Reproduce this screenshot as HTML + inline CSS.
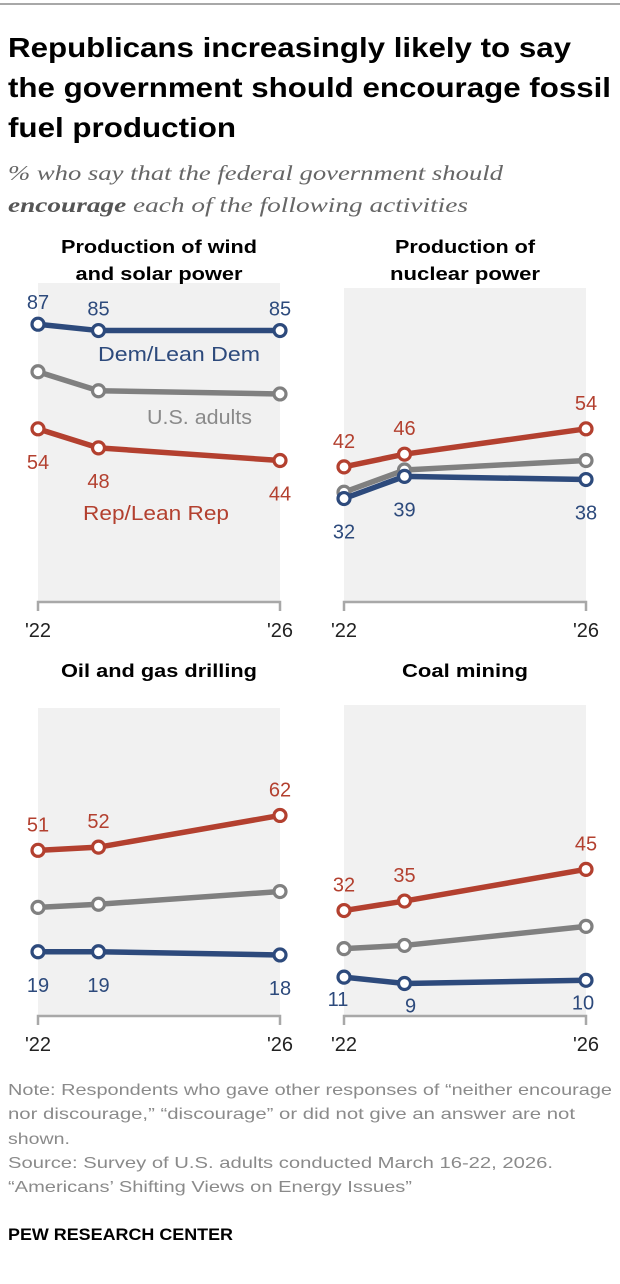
<!DOCTYPE html>
<html><head><meta charset="utf-8"><style>
html,body{margin:0;padding:0;background:#fff;width:620px;height:1284px;overflow:hidden}
svg{display:block}
text{font-family:"Liberation Sans",sans-serif}
</style></head><body>
<svg id="chart" width="620" height="1284" viewBox="0 0 620 1284" xmlns="http://www.w3.org/2000/svg">
<line x1="0" y1="4" x2="620" y2="4" stroke="#8c8c8c" stroke-width="1.5"/>
<g font-weight="bold" font-size="28" fill="#000">
<text x="8" y="57" textLength="563" lengthAdjust="spacingAndGlyphs">Republicans increasingly likely to say</text>
<text x="8" y="97" textLength="603" lengthAdjust="spacingAndGlyphs">the government should encourage fossil</text>
<text x="8" y="137" textLength="228" lengthAdjust="spacingAndGlyphs">fuel production</text>
</g>
<g font-style="italic" font-size="21" fill="#666">
<text x="8" y="180" textLength="495" lengthAdjust="spacingAndGlyphs" style="font-family:'Liberation Serif',serif">% who say that the federal government should</text>
<text x="8" y="212" textLength="460" lengthAdjust="spacingAndGlyphs" style="font-family:'Liberation Serif',serif"><tspan font-weight="bold" fill="#555">encourage</tspan> each of the following activities</text>
</g>
<g id="panels"></g>
<g font-size="16" fill="#8a8a8a">
<text x="8" y="1095" textLength="604" lengthAdjust="spacingAndGlyphs">Note: Respondents who gave other responses of “neither encourage</text>
<text x="8" y="1119" textLength="567" lengthAdjust="spacingAndGlyphs">nor discourage,” “discourage” or did not give an answer are not</text>
<text x="8" y="1144" textLength="62" lengthAdjust="spacingAndGlyphs">shown.</text>
<text x="8" y="1168" textLength="545" lengthAdjust="spacingAndGlyphs">Source: Survey of U.S. adults conducted March 16-22, 2026.</text>
<text x="8" y="1192" textLength="404" lengthAdjust="spacingAndGlyphs">“Americans’ Shifting Views on Energy Issues”</text>
</g>
<text x="8" y="1240" font-size="17" font-weight="bold" fill="#000" textLength="225" lengthAdjust="spacingAndGlyphs">PEW RESEARCH CENTER</text>
</svg>
<script>
// data
const years = [2022, 2023, 2026];
const panelNames = ["wind-solar","nuclear","oil-gas","coal"];
const demValues = [[87,85,85],[32,39,38],[19,19,18],[11,9,10]];
const repValues = [[54,48,44],[42,46,54],[51,52,62],[32,35,45]];
const adultValues = [[72,66,65],[34,41,44],[33,34,38],[20,21,27]];
const tickLabels = ["'22","'26"];
const titles = [["Production of wind","and solar power"],["Production of","nuclear power"],["Oil and gas drilling"],["Coal mining"]];

const NS="http://www.w3.org/2000/svg";
const root=document.getElementById('panels');
function mk(tag,attrs,parent){const e=document.createElementNS(NS,tag);for(const k in attrs)e.setAttribute(k,attrs[k]);parent.appendChild(e);return e;}
const layouts=[
 {x0:38,x1:280,bgTop:283,zero:600,axis:602,titleY:[253,280],cx:159,tw:[196,167]},
 {x0:344,x1:586,bgTop:288,zero:600,axis:602,titleY:[253,280],cx:465,tw:[140,150]},
 {x0:38,x1:280,bgTop:708,zero:1012,axis:1016,titleY:[677],cx:159,tw:[196]},
 {x0:344,x1:586,bgTop:705,zero:1012,axis:1016,titleY:[677],cx:465,tw:[126]}
];
const COL={dem:"#2d4a7c",rep:"#b3402f",adult:"#808080"};
const K=3.17;
panelNames.forEach((pn,i)=>{
 const L=layouts[i];
 const g=mk('g',{},root);
 
 
 const xs=v=>L.x0+(v-years[0])/(years[2]-years[0])*(L.x1-L.x0);
 const ys=v=>L.zero-v*K;
 const bg=mk('rect',{x:L.x0,y:L.bgTop,width:L.x1-L.x0,height:L.axis-L.bgTop,fill:"#f1f1f1"},g);
 
 
 titles[i].forEach((t,j)=>{
  const tt=mk('text',{x:L.cx,y:L.titleY[j],'text-anchor':'middle','font-size':18,'font-weight':'bold',fill:'#000',textLength:L.tw[j],lengthAdjust:'spacingAndGlyphs'},g);
  tt.textContent=t;
  
  
 });
 const ax=mk('path',{d:`M${L.x0},${L.axis+9}V${L.axis}H${L.x1}V${L.axis+9}`,stroke:'#a8a8a8','stroke-width':2.5,fill:'none'},g);
 
 
 [years[0],years[2]].forEach((yv,j)=>{
  const tl=mk('text',{x:xs(yv),y:L.axis+35,'text-anchor':'middle','font-size':20,fill:'#222'},g);
  tl.textContent=tickLabels[j];
  
  
 });
 const demOff = i===0 ? -22 : (i===3 ? 22 : 33);
 const series=[["adult",adultValues[i],0],["rep",repValues[i],i===0?33:-26],["dem",demValues[i],demOff]];
 series.forEach(([key,vals,off])=>{
  const sg=mk('g',{},g);
  
  
  const ln=mk('polyline',{points:vals.map((v,k)=>xs(years[k])+','+ys(v)).join(' '),fill:'none',stroke:COL[key],'stroke-width':5.5,'stroke-linejoin':'round'},sg);
  
  
  vals.forEach((v,k)=>{
   const c=mk('circle',{cx:xs(years[k]),cy:ys(v),r:6,fill:'#fff',stroke:COL[key],'stroke-width':3.2},sg);
   
   
   if(off!==0){
    let dx=0;
    if(i===3&&key==='dem'){dx=[-6,6,-3][k];}
    const lt=mk('text',{x:xs(years[k])+dx,y:ys(v)+off+7,'text-anchor':'middle','font-size':20,fill:COL[key]},sg);
    lt.textContent=v;
    
    
   }
  });
 });
 if(i===0){
  [["Dem/Lean Dem",98,361,COL.dem,162],["U.S. adults",147,424,"#8a8a8a",105],["Rep/Lean Rep",83,520,COL.rep,146]].forEach(([t,x,y,c,w])=>{
   const lt=mk('text',{x:x,y:y,'font-size':20,fill:c,textLength:w,lengthAdjust:'spacingAndGlyphs'},g);
   lt.textContent=t;
   
   
  });
 }
});
</script>
</body></html>
